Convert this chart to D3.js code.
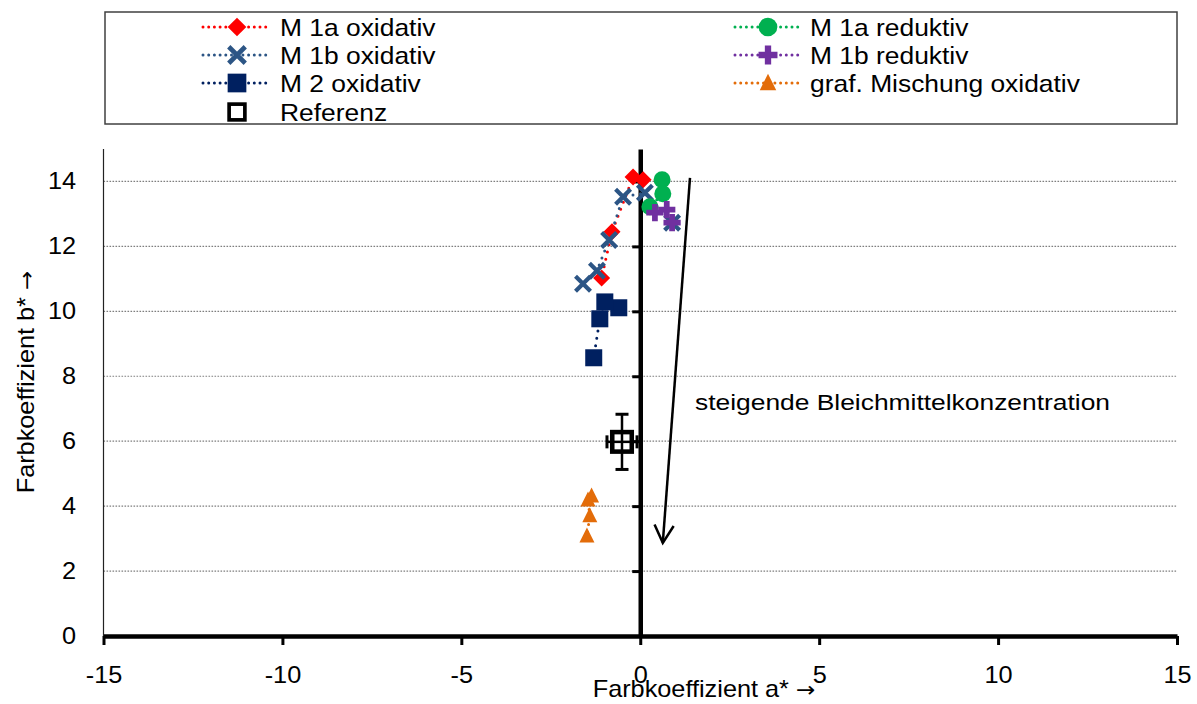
<!DOCTYPE html>
<html>
<head>
<meta charset="utf-8">
<script src="https://cdn.jsdelivr.net/npm/d3@7"></script>
<style>
  html, body { margin: 0; padding: 0; background: #fff; }
  svg { display: block; font-family: "Liberation Sans", Arial, sans-serif; }
</style>
</head>
<body>
<svg id="chart" width="1197" height="704"></svg>
<script>
// ---- data: colour coefficients a* (x) and b* (y) ----
const xTicks = [-15, -10, -5, 0, 5, 10, 15];
const yTicks = [0, 2, 4, 6, 8, 10, 12, 14];
const gridValues = [2, 4, 6, 8, 10, 12, 14];

const m1aOxA = [0.08, -0.20, -0.79, -1.08];
const m1aOxB = [14.05, 14.14, 12.45, 11.03];

const m1bOxA = [0.89, 0.13, -0.48, -0.87, -1.21, -1.60];
const m1bOxB = [12.73, 13.65, 13.53, 12.20, 11.25, 10.85];

const m2OxA = [-0.60, -0.99, -1.13, -1.30];
const m2OxB = [10.11, 10.29, 9.77, 8.57];

const m1aRedA = [0.61, 0.63, 0.27];
const m1aRedB = [14.05, 13.62, 13.22];

const m1bRedA = [0.41, 0.74, 0.89];
const m1bRedB = [13.04, 13.13, 12.73];

const mixOxA = [-1.36, -1.46, -1.41, -1.49];
const mixOxB = [4.31, 4.19, 3.70, 3.08];

const refA = [-0.51];
const refB = [5.98];
const refErrA = [0.42];
const refErrB = [0.85];

const seriesNames = ["M 1a oxidativ", "M 1b oxidativ", "M 2 oxidativ",
                     "M 1a reduktiv", "M 1b reduktiv", "graf. Mischung oxidativ", "Referenz"];

// trend arrow (start and end in a*/b* units) and its caption
const arrowA = [1.39, 0.63];
const arrowB = [14.11, 2.87];
const arrowLabel = "steigende Bleichmittelkonzentration";
const arrowLabelPos = [1.53, 6.96];

const xTitle = "Farbkoeffizient a* ";
const yTitle = "Farbkoeffizient b* ";
const titleArrow = "\u2192";

// ---- layout ----
const svg = d3.select("#chart");
const x = d3.scaleLinear().domain([-15, 15]).range([103.5, 1177]);
const y = d3.scaleLinear().domain([0, 15]).range([636, 149]);
const TEXT_SX = 1.1;
const FONT = "Liberation Sans, Arial, sans-serif";

const series = [
  { name: seriesNames[0], a: m1aOxA, b: m1aOxB, color: "#FF0000", shape: "diamond" },
  { name: seriesNames[1], a: m1bOxA, b: m1bOxB, color: "#2C5585", shape: "x" },
  { name: seriesNames[2], a: m2OxA, b: m2OxB, color: "#002060", shape: "square" },
  { name: seriesNames[3], a: m1aRedA, b: m1aRedB, color: "#00B050", shape: "circle" },
  { name: seriesNames[4], a: m1bRedA, b: m1bRedB, color: "#7030A0", shape: "plus" },
  { name: seriesNames[5], a: mixOxA, b: mixOxB, color: "#E36C09", shape: "triangle" }
];

function drawMarker(g, shape, color, cx, cy, scale) {
  const s = scale || 1;
  const t = `translate(${cx},${cy}) scale(${s})`;
  if (shape === "diamond") {
    g.append("path").attr("d", "M0,-8.5L8.5,0L0,8.5L-8.5,0Z").attr("fill", color).attr("transform", t);
  } else if (shape === "x") {
    g.append("path").attr("d", "M-7.5,-7.5L7.5,7.5M-7.5,7.5L7.5,-7.5")
      .attr("stroke", color).attr("stroke-width", 4.2).attr("fill", "none").attr("transform", t);
  } else if (shape === "square") {
    g.append("rect").attr("x", -8.5).attr("y", -8.5).attr("width", 17).attr("height", 17)
      .attr("fill", color).attr("transform", t);
  } else if (shape === "circle") {
    g.append("circle").attr("r", 8.5).attr("fill", color).attr("transform", t);
  } else if (shape === "plus") {
    g.append("path").attr("d", d3.symbol(d3.symbolCross, 165)()).attr("fill", color).attr("transform", t);
  } else if (shape === "triangle") {
    g.append("path").attr("d", "M0,-8.5L7.5,6.5L-7.5,6.5Z").attr("fill", color).attr("transform", t);
  } else if (shape === "open") {
    g.append("rect").attr("x", -7.5).attr("y", -7.5).attr("width", 15).attr("height", 15)
      .attr("fill", "#fff").attr("stroke", "#000").attr("stroke-width", 3.5).attr("transform", t);
  }
}

function stretchedText(g, px, py, str, size, sx, anchor, rot) {
  return g.append("text")
    .attr("transform", `translate(${px},${py}) rotate(${rot || 0}) scale(${sx},1)`)
    .attr("font-size", size)
    .attr("text-anchor", anchor || "start")
    .attr("fill", "#000")
    .text(str);
}

// axis title with a full-size arrow glyph
function axisTitle(px, py, str, rot, sx) {
  const t = svg.append("text")
    .attr("transform", `translate(${px},${py}) rotate(${rot}) scale(${sx},1)`)
    .attr("font-size", 23).attr("text-anchor", "middle").attr("fill", "#000");
  t.append("tspan").text(str);
  t.append("tspan").attr("font-family", "DejaVu Sans").attr("font-size", 21).text(titleArrow);
}

// ---- grid ----
const grid = svg.append("g");
grid.selectAll("line").data(gridValues).join("line")
  .attr("x1", x(-15)).attr("x2", x(15))
  .attr("y1", d => y(d)).attr("y2", d => y(d))
  .attr("stroke", "#7f7f7f").attr("stroke-width", 1.2).attr("stroke-dasharray", "1.6 1.4");

// plot area left border
svg.append("line").attr("x1", x(-15)).attr("x2", x(-15)).attr("y1", y(15)).attr("y2", y(0))
  .attr("stroke", "#222").attr("stroke-width", 1.2);

// ---- axes ----
const fmt = d => String(d);
const xAxis = svg.append("g").attr("transform", `translate(0,${y(0)})`)
  .call(d3.axisBottom(x).tickValues(xTicks).tickFormat(fmt).tickSize(9).tickSizeOuter(0).tickPadding(22));
xAxis.select(".domain").attr("stroke-width", 4.5);
xAxis.selectAll(".tick line").attr("stroke-width", 3);
xAxis.selectAll("text").attr("font-size", 23).attr("font-family", FONT)
  .attr("transform", `scale(${TEXT_SX},1)`);

const yAxis = svg.append("g").attr("transform", `translate(${x(0)},0)`)
  .call(d3.axisLeft(y).tickValues(yTicks.filter(v => v > 0)).tickSize(8).tickSizeOuter(0).tickFormat(""));
yAxis.select(".domain").attr("stroke-width", 4.5);
yAxis.selectAll(".tick line").attr("stroke-width", 3);

const yLabels = svg.append("g").attr("transform", `translate(${x(-15)},0)`)
  .call(d3.axisLeft(y).tickValues(yTicks).tickFormat(fmt).tickSize(0).tickPadding(25));
yLabels.select(".domain").remove();
yLabels.selectAll("text").attr("font-size", 23).attr("font-family", FONT)
  .attr("transform", `scale(${TEXT_SX},1)`);

// ---- axis titles ----
axisTitle(704, 697, xTitle, 0, 1.1);
axisTitle(34, 382, yTitle, -90, 1.1);

// ---- series lines ----
const line = d3.line().x(d => x(d[0])).y(d => y(d[1]));
series.forEach(s => {
  const pts = s.a.map((v, i) => [v, s.b[i]]);
  svg.append("path").datum(pts).attr("d", line)
    .attr("fill", "none").attr("stroke", s.color).attr("stroke-width", 3)
    .attr("stroke-linecap", "round").attr("stroke-dasharray", "0 7.5");
});

// ---- markers ----
const markers = svg.append("g");
series.forEach(s => {
  s.a.forEach((v, i) => drawMarker(markers, s.shape, s.color, x(v), y(s.b[i])));
});

// reference point with error bars
const ref = svg.append("g");
refA.forEach((v, i) => {
  const cx = x(v), cy = y(refB[i]);
  const x0 = x(v - refErrA[i]), x1 = x(v + refErrA[i]);
  const y0 = y(refB[i] - refErrB[i]), y1 = y(refB[i] + refErrB[i]);
  drawMarker(ref, "open", "#000", cx, cy, 1.3);
  const eb = "#000";
  ref.append("line").attr("x1", x0).attr("x2", x1).attr("y1", cy).attr("y2", cy).attr("stroke", eb).attr("stroke-width", 2.5);
  ref.append("line").attr("x1", cx).attr("x2", cx).attr("y1", y0).attr("y2", y1).attr("stroke", eb).attr("stroke-width", 2.5);
  [x0, x1].forEach(xx => ref.append("line").attr("x1", xx).attr("x2", xx).attr("y1", cy - 6.5).attr("y2", cy + 6.5)
    .attr("stroke", eb).attr("stroke-width", 3));
  [y0, y1].forEach(yy => ref.append("line").attr("x1", cx - 6.5).attr("x2", cx + 6.5).attr("y1", yy).attr("y2", yy)
    .attr("stroke", eb).attr("stroke-width", 3));
});

// ---- trend arrow ----
const ax0 = x(arrowA[0]), ay0 = y(arrowB[0]), ax1 = x(arrowA[1]), ay1 = y(arrowB[1]);
svg.append("line").attr("x1", ax0).attr("y1", ay0).attr("x2", ax1).attr("y2", ay1)
  .attr("stroke", "#000").attr("stroke-width", 2.5);
const ang = Math.atan2(ay1 - ay0, ax1 - ax0);
const headLen = 20, headSpread = 0.5;
const hp = [
  [ax1 - headLen * Math.cos(ang - headSpread), ay1 - headLen * Math.sin(ang - headSpread)],
  [ax1, ay1],
  [ax1 - headLen * Math.cos(ang + headSpread), ay1 - headLen * Math.sin(ang + headSpread)]
];
svg.append("path").attr("d", d3.line()(hp)).attr("fill", "none").attr("stroke", "#000")
  .attr("stroke-width", 2.5).attr("stroke-linejoin", "miter");
stretchedText(svg, x(arrowLabelPos[0]), y(arrowLabelPos[1]), arrowLabel, 22, 1.2);

// ---- legend ----
const legend = svg.append("g");
legend.append("rect").attr("x", 105).attr("y", 12).attr("width", 1072).attr("height", 112)
  .attr("fill", "#fff").attr("stroke", "#404040").attr("stroke-width", 1.5);
const rowY = [27, 55, 83, 112];
const cols = [{ l0: 203, l1: 270, m: 237, t: 280 }, { l0: 735, l1: 800, m: 768, t: 810 }];
const legendItems = series.map((s, i) => ({ ...s, col: i < 3 ? 0 : 1, row: i % 3 }));
legendItems.push({ name: seriesNames[6], shape: "open", color: "#000", col: 0, row: 3, noLine: true });
legendItems.forEach(it => {
  const c = cols[it.col], cy = rowY[it.row];
  if (!it.noLine) {
    legend.append("line").attr("x1", c.l0).attr("x2", c.l1).attr("y1", cy).attr("y2", cy)
      .attr("stroke", it.color).attr("stroke-width", 3).attr("stroke-linecap", "round")
      .attr("stroke-dasharray", "0 5.7");
  }
  drawMarker(legend, it.shape, it.color, c.m, cy, it.shape === "open" ? 1.05 : 1.1);
  stretchedText(legend, c.t, cy + 8.5, it.name, 24, 1.1);
});
</script>
</body>
</html>
